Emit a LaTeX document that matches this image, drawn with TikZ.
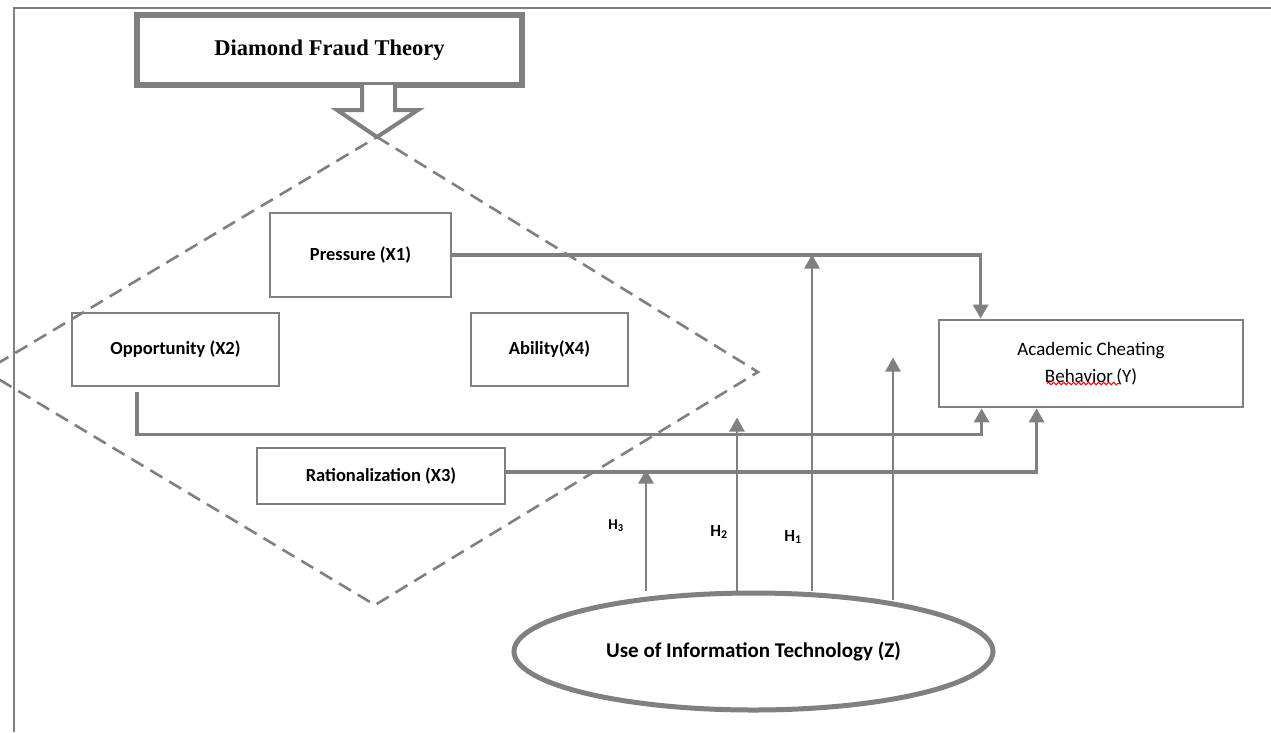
\documentclass[tikz,border=0pt]{standalone}
\usepackage{fontspec}
\setmainfont{Carlito}
\newfontfamily\titlefont{Liberation Serif}
\usepackage{tikz}
\usetikzlibrary{shapes.geometric, arrows.meta, calc, positioning, decorations.pathmorphing}
\definecolor{linegray}{RGB}{128,128,128}
\tikzset{var/.style={draw=linegray,line width=2.8pt,inner sep=0pt,font=\bfseries\fontsize{18.5}{22}\selectfont},
    titlebox/.style={draw=linegray,line width=6pt,inner sep=0pt,minimum width=385pt,minimum height=70pt,
        font=\titlefont\bfseries\fontsize{22.5}{26}\selectfont},
    frame/.style={draw=linegray,line width=2.7pt},
    fence/.style={draw=linegray,line width=2.6pt,dash pattern=on 14pt off 8pt},
    conn/.style={draw=linegray,line width=3.2pt,-{Triangle[length=14pt,width=15pt]}},
    hline/.style={draw=linegray,line width=2.6pt,-{Triangle[length=14pt,width=15pt]}},
    hlab/.style={font=\bfseries\fontsize{17}{20}\selectfont,inner sep=0pt}}
\begin{document}
\begin{tikzpicture}[x=1pt,y=-1pt]
    \useasboundingbox (0,0) rectangle (1271,732);
    \draw[frame] (14,732) -- (14,8) -- (1271,8);
    % dashed diamond
    \draw[fence] (377,137) -- (758,372) -- (375,605) -- (-15,371) -- cycle;
    \node[titlebox] (T) at (329.5,50) {Diamond Fraud Theory};
    \draw[draw=linegray,line width=4pt,fill=white,line join=miter]
        (362,85) -- (362,110) -- (337,110) -- (377,137) -- (418,110) -- (395,110) -- (395,85);
    \foreach \pos/\name/\bw/\bh/\txt in {{(360.5,255)/P/181/84/Pressure (X1)}, {(175.5,349.5)/O/207/73/Opportunity (X2)},
        {(549.5,349.5)/A/157/73/Ability(X4)}, {(381,476)/R/248/56/Rationalization (X3)}}
                \node[var,minimum width=\bw pt,minimum height=\bh pt] (\name) at \pos {\txt};
    \node[var,minimum width=304pt,minimum height=87pt,align=center,font=\fontsize{19}{27}\selectfont]
        (Y) at (1091,363.5) {Academic Cheating\\Behavior\,(Y)};
    \draw[red,line width=1pt,decorate,decoration={snake,amplitude=1.3pt,segment length=5pt}]
        ($(Y.center)+(-44,20)$) -- ($(Y.center)+(29,20)$);
    \node[ellipse,draw=linegray,line width=5pt,inner sep=0pt,minimum width=479pt,minimum height=117pt,
        font=\bfseries\fontsize{21}{25}\selectfont] (Z) at (753.5,651.5) {Use of Information Technology (Z)};
    \path (Y.north west) ++(43,0) coordinate (y1);
    \path (Y.south west) ++(44,0) coordinate (y2);
    \path (Y.south west) ++(99,0) coordinate (y3);
    \draw[conn] (P.east) -| (y1);
    \draw[conn] ([xshift=-38.5pt,yshift=-5pt]O.south) -- ++(0,42) -| (y2);
    \draw[conn] ([yshift=4pt]R.east) -| (y3);
    % moderation lines
    \draw[hline] ([xshift=-107.5pt]Z.north) -- ++(0,-121);
    \draw[hline] ([xshift=-16.5pt]Z.north) -- ++(0,-173);
    \draw[hline] ([xshift=58.5pt]Z.north) -- ++(0,-336);
    \draw[hline] ([xshift=139.5pt,yshift=-9pt]Z.north) -- ++(0,-242);
    \node[hlab,font=\bfseries\fontsize{15}{18}\selectfont] (H3) at (616,526) {H\textsubscript{3}};
    \node[hlab] (H2) at (719,532) {H\textsubscript{2}};
    \node[hlab] (H1) at (793,537) {H\textsubscript{1}};
\end{tikzpicture}
\end{document}
